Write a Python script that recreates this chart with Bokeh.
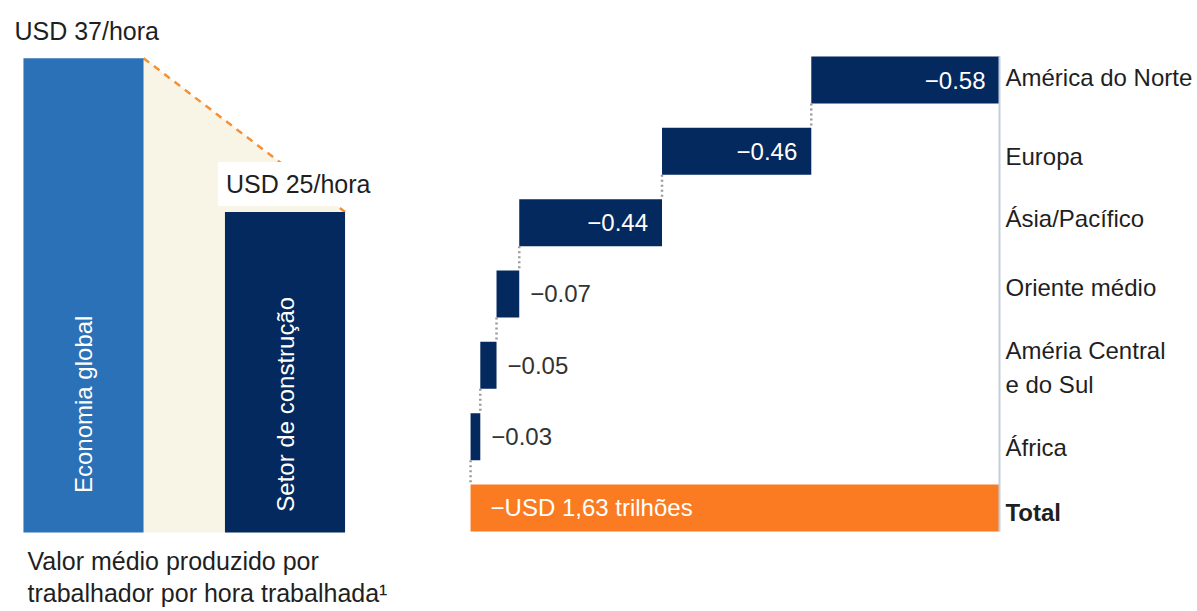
import numpy as np
from bokeh.plotting import figure
from bokeh.layouts import row
from bokeh.models import Range1d
from bokeh.core.properties import value
from bokeh.embed import file_html
from bokeh.resources import INLINE

# ---------------- data ----------------
prod_labels = ["Economia global", "Setor de construção"]
prod_values = [37, 25]
prod_value_text = ["USD 37/hora", "USD 25/hora"]
prod_caption = "Valor médio produzido por\ntrabalhador por hora trabalhada¹"

regions = ["América do Norte", "Europa", "Ásia/Pacífico", "Oriente médio",
           "Améria Central\ne do Sul", "África"]
region_values = [-0.58, -0.46, -0.44, -0.07, -0.05, -0.03]
total_label = "Total"
total_text = "−USD 1,63 trilhões"

# ---------------- styles ----------------
FONT = value("Liberation Sans")
LIGHT_BLUE = "#2b71b7"
NAVY = "#03295e"
BEIGE = "#f8f5e6"
ORANGE = "#fa7b21"
DASH_ORANGE = "#f39136"
TEXT = "#1f1f1f"
LABEL_NUDGE = [-3, 5, -4, -6, 2, 11]  # px vertical nudges of region labels
TOTAL_NUDGE = 5

# ---------------- left panel ----------------
LW, LH = 448, 611
bw = 0.596
left = figure(width=LW, height=LH, x_range=Range1d(-0.4119, 1.8114), y_range=Range1d(-6.162, 41.50),
              output_backend="svg", toolbar_location=None, x_axis_location=None,
              y_axis_location=None, min_border=0, outline_line_color=None)
left.grid.visible = False

xs_idx = [0, 1]
# shaded gap
left.patch([xs_idx[0] + bw / 2, xs_idx[1] + bw / 2, xs_idx[1] + bw / 2, xs_idx[0] + bw / 2],
           [prod_values[0], prod_values[1], 0, 0], fill_color=BEIGE, line_color=None)
left.line([xs_idx[0] + bw / 2, xs_idx[1] + bw / 2], [prod_values[0], prod_values[1]],
          line_color=DASH_ORANGE, line_width=2.5, line_dash="7 6")
left.vbar(x=xs_idx, top=prod_values, bottom=0, width=bw, fill_color=[LIGHT_BLUE, NAVY], line_color=None)

left.text(x=[xs_idx[0] - bw / 2], y=[prod_values[0]], text=[prod_value_text[0]],
          x_offset=-9, y_offset=-27, text_align="left", text_baseline="alphabetic",
          text_font=FONT, text_font_size="25px", text_color=TEXT)
left.text(x=[xs_idx[1] - bw / 2], y=[prod_values[1]], text=[prod_value_text[1]],
          x_offset=-7, y_offset=-28, text_align="left", text_baseline="alphabetic",
          text_font=FONT, text_font_size="25px", text_color=TEXT,
          background_fill_color="white", padding=8)
left.text(x=xs_idx, y=[10, 10], text=prod_labels, angle=np.pi / 2,
          text_align="center", text_baseline="middle",
          text_font=FONT, text_font_size="24px", text_color="white")
left.text(x=[xs_idx[0] - bw / 2], y=[0], text=[prod_caption], x_offset=4, y_offset=14,
          text_align="left", text_baseline="top", text_line_height=1.17,
          text_font=FONT, text_font_size="25px", text_color=TEXT)

# ---------------- right panel (waterfall) ----------------
RW, RH = 749, 611
bh = 0.659
right = figure(width=RW, height=RH, x_range=Range1d(-1.698, 0.6102), y_range=Range1d(7.4513, -1.1146),
               output_backend="svg", toolbar_location=None, x_axis_location=None,
               y_axis_location=None, min_border=0, outline_line_color=None)
right.grid.visible = False

vals = np.array(region_values)
starts = np.concatenate([[0.0], np.cumsum(vals)[:-1]])
ends = np.cumsum(vals)
total = float(ends[-1])
rows = list(range(len(regions)))
total_row = len(regions)

right.hbar(y=rows, left=ends, right=starts, height=bh, fill_color=NAVY, line_color=None)
right.hbar(y=[total_row], left=[total], right=[0], height=bh, fill_color=ORANGE, line_color=None)

# connectors
right.segment(x0=ends, y0=[r + bh / 2 for r in rows], x1=ends, y1=[r + 1 - bh / 2 for r in rows],
              line_color="#9a9a9a", line_width=2.5, line_dash="2 3")
# axis line at zero
right.segment(x0=[0], y0=[-bh / 2], x1=[0], y1=[total_row + bh / 2], line_color="#c3cfdc", line_width=2)

val_text = ["\u2212{:.2f}".format(abs(v)) for v in region_values]
inside = [i for i, v in enumerate(region_values) if abs(v) >= 0.2]
outside = [i for i, v in enumerate(region_values) if abs(v) < 0.2]
right.text(x=[starts[i] for i in inside], y=[rows[i] for i in inside], text=[val_text[i] for i in inside],
           x_offset=-14, text_align="right", text_baseline="middle",
           text_font=FONT, text_font_size="24px", text_color="white")
right.text(x=[starts[i] for i in outside], y=[rows[i] for i in outside], text=[val_text[i] for i in outside],
           x_offset=11, text_align="left", text_baseline="middle",
           text_font=FONT, text_font_size="24px", text_color="#333333")
right.text(x=[total], y=[total_row], text=[total_text], x_offset=20,
           text_align="left", text_baseline="middle",
           text_font=FONT, text_font_size="24px", text_color="white")

right.text(x=[0] * len(regions), y=rows, text=regions, x_offset=6, y_offset=LABEL_NUDGE,
           text_align="left", text_baseline="middle", text_line_height=1.25,
           text_font=FONT, text_font_size="24px", text_color=TEXT)
right.text(x=[0], y=[total_row], text=[total_label], x_offset=6, y_offset=TOTAL_NUDGE,
           text_align="left", text_baseline="middle", text_font_style="bold",
           text_font=FONT, text_font_size="24px", text_color=TEXT)

layout = row(left, right, spacing=0)
open("out.html", "w").write(file_html(layout, INLINE))
